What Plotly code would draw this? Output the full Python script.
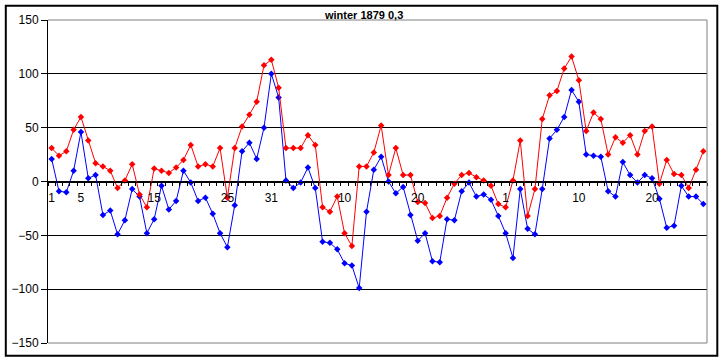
import plotly.graph_objects as go

title_text = "winter 1879 0,3"

red_values = [31, 24, 28, 48, 60, 38, 17, 14, 10, -6,
              1, 16, -12, -24, 12, 10, 8, 13, 20, 34,
              14, 16, 14, 31, -15, 31, 51, 62, 74, 108,
              113, 87, 31, 31, 31, 43, 34, -24, -28, -14,
              -48, -60, 14, 14, 27, 52, 6, 31, 6, 6,
              -19, -20, -34, -32, -15, -2, 6, 8, 4, 1,
              -4, -21, -24, 1, 38, -32, -7, 58, 80, 84,
              105, 116, 94, 47, 64, 58, 25, 41, 36, 43,
              25, 47, 51, -2, 20, 7, 6, -6, 11, 28]

blue_values = [21, -9, -10, 10, 46, 3, 6, -31, -27, -49,
               -36, -7, -14, -48, -35, -4, -26, -18, 10, -1,
               -18, -15, -30, -48, -61, -22, 28, 36, 21, 50,
               100, 78, 1, -6, -1, 13, -6, -56, -57, -63,
               -76, -78, -99, -28, 11, 23, 0, -11, -5, -31,
               -55, -48, -74, -75, -35, -36, -9, -1, -14, -12,
               -17, -32, -48, -71, -7, -44, -49, -7, 40, 48,
               60, 85, 74, 25, 24, 23, -9, -14, 18, 6,
               -1, 6, 3, -16, -43, -41, -4, -14, -14, -21]

categories = list(range(len(red_values)))
tick_positions = [0, 4, 14, 24, 30, 40, 50, 62, 72, 82]
tick_labels = ["1", "5", "15", "25", "31", "10", "20", "1", "10", "20"]
y_ticks = [-150, -100, -50, 0, 50, 100, 150]

FONT = "Liberation Sans, Arial, sans-serif"
W, H = 724, 362
ML, MR, MT, MB = 48, 17, 20, 19
PW, PH = W - ML - MR, H - MT - MB

def px_x(p):
    return (p - ML) / PW

def px_y(p):
    return (H - MB - p) / PH

fig = go.Figure()
fig.add_trace(go.Scatter(
    x=categories, y=blue_values, mode="lines+markers",
    line=dict(color="#0000FF", width=1),
    marker=dict(color="#0000FF", size=5, symbol="diamond"),
    showlegend=False, cliponaxis=False))
fig.add_trace(go.Scatter(
    x=categories, y=red_values, mode="lines+markers",
    line=dict(color="#FF0000", width=1),
    marker=dict(color="#FF0000", size=5, symbol="diamond"),
    showlegend=False, cliponaxis=False))

fig.update_layout(
    width=W, height=H,
    margin=dict(l=ML, r=MR, t=MT, b=MB, pad=0),
    paper_bgcolor="white", plot_bgcolor="white",
    font=dict(family=FONT, size=12, color="black"),
    xaxis=dict(
        range=[-0.5, len(categories) - 0.5],
        tickmode="array", tickvals=tick_positions, ticktext=tick_labels,
        ticks="", showgrid=False, zeroline=False,
        showline=True, linecolor="black", linewidth=1,
        anchor="free", position=0.5, ticklabelstandoff=5,
        tickfont=dict(family=FONT, size=12, color="black"),
        minor=dict(tickmode="linear", tick0=-0.5, dtick=1, ticks="outside",
                   ticklen=3, tickcolor="black", tickwidth=1, showgrid=False),
    ),
    yaxis=dict(
        range=[-150, 150], tickmode="array", tickvals=y_ticks,
        ticks="outside", ticklen=6, tickcolor="black",
        showgrid=True, gridcolor="black", gridwidth=1,
        zeroline=False, showline=True, linecolor="black", linewidth=1,
        tickfont=dict(family=FONT, size=12, color="black"),
    ),
    shapes=[
        dict(type="line", xref="paper", yref="paper", x0=0, x1=1, y0=1, y1=1,
             line=dict(color="#808080", width=1), layer="above"),
        dict(type="line", xref="paper", yref="paper", x0=1, x1=1, y0=0, y1=1,
             line=dict(color="#808080", width=1), layer="above"),
        dict(type="line", xref="paper", yref="paper", x0=0, x1=1, y0=0, y1=0,
             line=dict(color="#808080", width=1), layer="above"),
        dict(type="rect", xref="paper", yref="paper",
             x0=px_x(5.8), x1=px_x(717.3), y0=px_y(355.7), y1=px_y(5.8),
             line=dict(color="black", width=2), layer="above"),
    ],
    annotations=[
        dict(text="<b>" + title_text + "</b>", xref="paper", yref="paper",
             x=px_x(363), y=px_y(15), xanchor="center", yanchor="middle",
             showarrow=False, font=dict(family=FONT, size=11, color="black")),
    ],
)

fig.write_html("out.html", config={"displayModeBar": False},
               post_script="document.body.style.margin='0';document.body.style.padding='0';")
